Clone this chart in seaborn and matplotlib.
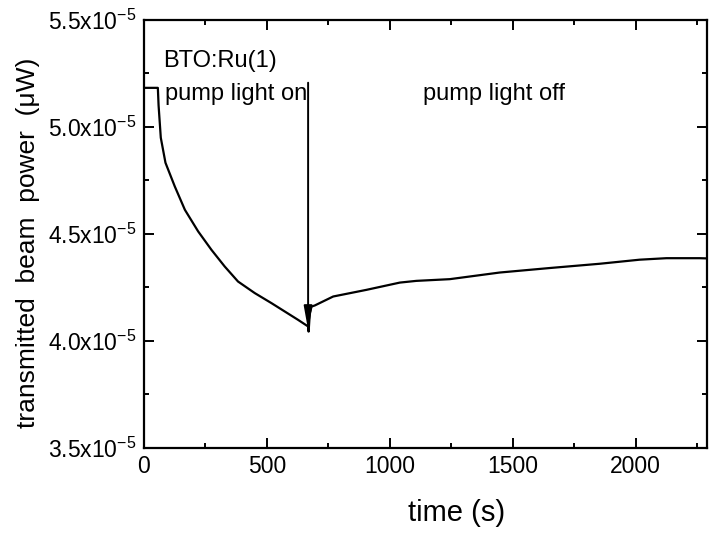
"""Transmitted beam power vs time for BTO:Ru(1), pump light on/off."""

import matplotlib

matplotlib.use("Agg")
import matplotlib.pyplot as plt
import matplotlib.ticker as mticker
import pandas as pd
import seaborn as sns

# values (time in s, power in units of 1e-5 uW)
time_s = [0, 30, 57, 60, 69, 88, 126, 167, 221, 275, 329, 383, 451, 519, 573,
          627, 668, 670, 675, 682, 695, 736, 770, 905, 1041, 1108, 1244, 1447,
          1650, 1854, 2016, 2125, 2260, 2290]
power_e5 = [5.182, 5.182, 5.182, 5.10, 4.949, 4.832, 4.721, 4.612, 4.511, 4.425,
            4.347, 4.277, 4.223, 4.176, 4.137, 4.098, 4.067, 4.043, 4.13, 4.16,
            4.165, 4.188, 4.207, 4.238, 4.272, 4.28, 4.288, 4.319, 4.34, 4.36,
            4.379, 4.386, 4.386, 4.385]

pump_off_time = 668
arrow_top = 5.206
arrow_tip = 4.05

y_major = [3.5, 4.0, 4.5, 5.0, 5.5]

df = pd.DataFrame({"time": time_s, "power": [v * 1e-5 for v in power_e5]})

sns.set_style("ticks", {
    "axes.edgecolor": "black",
    "text.color": "black",
    "axes.labelcolor": "black",
    "xtick.color": "black",
    "ytick.color": "black",
})
plt.rcParams["font.family"] = ["Liberation Sans", "DejaVu Sans"]
plt.rcParams["mathtext.default"] = "regular"

fig = plt.figure(figsize=(7.12, 5.35), dpi=100)
ax = fig.add_axes([0.202, 0.163, 0.791, 0.8])

sns.lineplot(data=df, x="time", y="power", ax=ax, color="black", linewidth=1.6)

ax.annotate(
    "",
    xy=(pump_off_time, arrow_tip * 1e-5),
    xytext=(pump_off_time, arrow_top * 1e-5),
    arrowprops=dict(arrowstyle="-|>,head_length=1.4,head_width=0.25",
                    color="black", lw=1.4, shrinkA=0, shrinkB=0),
)

ax.set_xlim(0, 2290)
ax.set_ylim(3.5e-5, 5.5e-5)
ax.set_yticks([v * 1e-5 for v in y_major])
ax.yaxis.set_minor_locator(mticker.MultipleLocator(0.25e-5))
ax.xaxis.set_major_locator(mticker.MultipleLocator(500))
ax.xaxis.set_minor_locator(mticker.MultipleLocator(250))
ax.yaxis.set_major_formatter(
    mticker.FuncFormatter(lambda v, _: f"{v * 1e5:.1f}x10$^{{-5}}$"))

ax.tick_params(which="both", direction="in", top=True, right=True, width=1.4)
ax.tick_params(which="major", length=7, labelsize=16.5, pad=5)
ax.tick_params(which="minor", length=3.5)
for sp in ax.spines.values():
    sp.set_linewidth(1.6)
    sp.set_visible(True)

ax.set_xlabel("time (s)", fontsize=21)
ax.xaxis.set_label_coords(0.556, -0.12)
ax.set_ylabel("transmitted  beam  power  (\u03bcW)", fontsize=19)
ax.yaxis.set_label_coords(-0.184, 0.478)

ax.text(0.034, 0.890, "BTO:Ru(1)", transform=ax.transAxes, fontsize=17,
        va="baseline", ha="left")
ax.text(0.038, 0.813, "pump light on", transform=ax.transAxes, fontsize=17,
        va="baseline", ha="left")
ax.text(0.496, 0.813, "pump light off", transform=ax.transAxes, fontsize=17,
        va="baseline", ha="left")

fig.savefig("out.png", dpi=100)
plt.close(fig)
